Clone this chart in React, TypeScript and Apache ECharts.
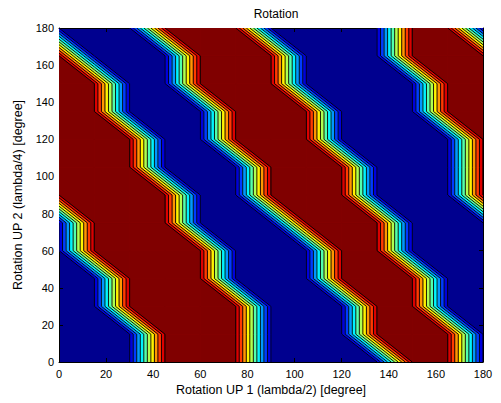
import React, { useEffect, useRef } from "react";
import * as echarts from "echarts";

// grid nodes (degrees)
const xNodes = [0, 15, 30, 45, 60, 75, 90, 105, 120, 135, 150, 165, 180];
const yNodes = [0, 15, 30, 45, 60, 75, 90, 105, 120, 135, 150, 165, 180];

// node values: 0 = low (blue), 1 = high (red); one row per y node
const rowY000 = [0, 0, 0, 1, 1, 1, 0, 0, 0, 0, 1, 1, 0];
const rowY015 = [0, 0, 0, 1, 1, 1, 0, 0, 0, 1, 1, 1, 0];
const rowY030 = [0, 0, 1, 1, 1, 1, 0, 0, 0, 1, 1, 0, 0];
const rowY045 = [0, 0, 1, 1, 1, 0, 0, 0, 1, 1, 1, 0, 0];
const rowY060 = [0, 1, 1, 1, 1, 0, 0, 0, 1, 1, 0, 0, 0];
const rowY075 = [0, 1, 1, 1, 0, 0, 0, 1, 1, 1, 0, 0, 0];
const rowY090 = [1, 1, 1, 1, 0, 0, 1, 1, 1, 0, 0, 0, 1];
const rowY105 = [1, 1, 1, 0, 0, 0, 1, 1, 1, 0, 0, 0, 1];
const rowY120 = [1, 1, 1, 0, 0, 1, 1, 1, 0, 0, 0, 0, 1];
const rowY135 = [1, 1, 0, 0, 0, 1, 1, 1, 0, 0, 0, 1, 1];
const rowY150 = [1, 1, 0, 0, 1, 1, 1, 0, 0, 0, 0, 1, 1];
const rowY165 = [1, 0, 0, 0, 1, 1, 1, 0, 0, 0, 1, 1, 1];
const rowY180 = [0, 0, 0, 1, 1, 1, 0, 0, 0, 0, 1, 1, 0];
const nodeRows = [rowY000, rowY015, rowY030, rowY045, rowY060, rowY075, rowY090, rowY105, rowY120, rowY135, rowY150, rowY165, rowY180];

// contour levels and fill colours (jet)
const contourLevels = [0.001, 0.1, 0.2, 0.3, 0.4, 0.5, 0.6, 0.7, 0.8, 0.9, 0.999];
const levelColors = [
  "#00008F", "#0000DC", "#003AFF", "#0097FF", "#00F3FF", "#51FFAE",
  "#AEFF51", "#FFF300", "#FF9700", "#FF3A00", "#DC0000", "#800000",
];

const titleText = "Rotation";
const xTitle = "Rotation UP 1 (lambda/2) [degree]";
const yTitle = "Rotation UP 2 (lambda/4) [degree]";

const FONT = "'Liberation Sans', Arial, Helvetica, sans-serif";

function buildCells() {
  const cells: number[][] = [];
  for (let j = 0; j < yNodes.length - 1; j++) {
    for (let i = 0; i < xNodes.length - 1; i++) {
      cells.push([
        xNodes[i], yNodes[j], xNodes[i + 1], yNodes[j + 1],
        nodeRows[j][i], nodeRows[j][i + 1], nodeRows[j + 1][i + 1], nodeRows[j + 1][i],
      ]);
    }
  }
  return cells;
}

function cellGeom(api: any) {
  const x0 = api.value(0), y0 = api.value(1), x1 = api.value(2), y1 = api.value(3);
  const v = [api.value(4), api.value(5), api.value(6), api.value(7)];
  const corners = [[x0, y0], [x1, y0], [x1, y1], [x0, y1]];
  return { v, corners };
}

function crossing(c0: number[], c1: number[], v0: number, v1: number, t: number) {
  const f = (t - v0) / (v1 - v0);
  return [c0[0] + f * (c1[0] - c0[0]), c0[1] + f * (c1[1] - c0[1])];
}

// fill renderer for band k (k >= 1): region v >= level[k-1]; the lowest band is the grid background
function makeFill(k: number) {
  return (params: any, api: any) => {
    const { v, corners } = cellGeom(api);
    const pts: number[][] = [];
    const t = contourLevels[k - 1];
    for (let c = 0; c < 4; c++) {
      const n = (c + 1) % 4;
      const hi = v[c] >= t, hn = v[n] >= t;
      if (hi) pts.push(corners[c]);
      if (hi !== hn) pts.push(crossing(corners[c], corners[n], v[c], v[n], t));
    }
    if (pts.length < 3) return { type: "group", children: [] };
    const col = levelColors[k];
    return {
      type: "polygon",
      shape: { points: pts.map((p) => api.coord(p)) },
      style: { fill: col, stroke: col, lineWidth: 0.8 },
    };
  };
}

function renderLines(params: any, api: any) {
  const { v, corners } = cellGeom(api);
  const children: any[] = [];
  contourLevels.forEach((t) => {
    const cr: number[][] = [];
    for (let c = 0; c < 4; c++) {
      const n = (c + 1) % 4;
      if ((v[c] >= t) !== (v[n] >= t)) cr.push(crossing(corners[c], corners[n], v[c], v[n], t));
    }
    const pairs: number[][] = [];
    if (cr.length === 2) pairs.push([0, 1]);
    else if (cr.length === 4) {
      if (v[0] >= t) pairs.push([0, 1], [2, 3]);
      else pairs.push([1, 2], [3, 0]);
    }
    pairs.forEach(([a, b]) => {
      const p = api.coord(cr[a]);
      const q = api.coord(cr[b]);
      children.push({
        type: "line",
        shape: { x1: p[0], y1: p[1], x2: q[0], y2: q[1] },
        style: { stroke: "#000", lineWidth: 0.9 },
      });
    });
  });
  return { type: "group", children };
}

export default function App() {
  const ref = useRef<HTMLDivElement>(null);
  useEffect(() => {
    if (!ref.current) return;
    const chart = echarts.init(ref.current, undefined, { renderer: "svg" });
    const cells = buildCells();
    const axisCommon = {
      type: "value" as const,
      min: 0,
      max: 180,
      interval: 20,
      splitLine: { show: false },
      axisLine: { show: true, onZero: false, lineStyle: { color: "#000", width: 1 } },
      axisTick: { show: true, inside: true, length: 4, lineStyle: { color: "#000" } },
    };
    const fillSeries = levelColors.slice(1).map((_, idx) => ({
      type: "custom",
      xAxisIndex: 0,
      yAxisIndex: 0,
      renderItem: makeFill(idx + 1),
      data: cells,
      encode: { x: [0, 2], y: [1, 3] },
      clip: true,
      z: 1 + idx * 0.01,
      silent: true,
    }));
    chart.setOption({
      animation: false,
      backgroundColor: "#fff",
      textStyle: { fontFamily: FONT },
      title: {
        text: titleText,
        left: 271,
        top: 3,
        textAlign: "center",
        textStyle: { fontFamily: FONT, fontSize: 12, fontWeight: "normal", color: "#000" },
      },
      grid: {
        left: 59, top: 28, width: 424, height: 334,
        show: true, backgroundColor: levelColors[0], borderWidth: 0,
      },
      xAxis: [
        {
          ...axisCommon,
          position: "bottom",
          axisLabel: { show: true, color: "#000", fontSize: 11, fontFamily: FONT, margin: 6 },
          name: xTitle,
          nameLocation: "middle",
          nameGap: 20,
          nameTextStyle: { color: "#000", fontSize: 12.5, fontFamily: FONT },
        },
        { ...axisCommon, position: "top", axisLabel: { show: false } },
      ],
      yAxis: [
        {
          ...axisCommon,
          position: "left",
          axisLabel: { show: true, color: "#000", fontSize: 11, fontFamily: FONT, margin: 5 },
          name: yTitle,
          nameLocation: "middle",
          nameGap: 30,
          nameTextStyle: { color: "#000", fontSize: 12.5, fontFamily: FONT },
        },
        { ...axisCommon, position: "right", axisLabel: { show: false } },
      ],
      series: [
        ...fillSeries,
        {
          type: "custom",
          xAxisIndex: 0,
          yAxisIndex: 0,
          renderItem: renderLines,
          data: cells,
          encode: { x: [0, 2], y: [1, 3] },
          clip: true,
          z: 2,
          silent: true,
        },
      ],
    });
    return () => chart.dispose();
  }, []);
  return (
    <div
      ref={ref}
      style={{ position: "absolute", left: 0, top: 0, width: 501, height: 403, background: "#fff" }}
    />
  );
}
